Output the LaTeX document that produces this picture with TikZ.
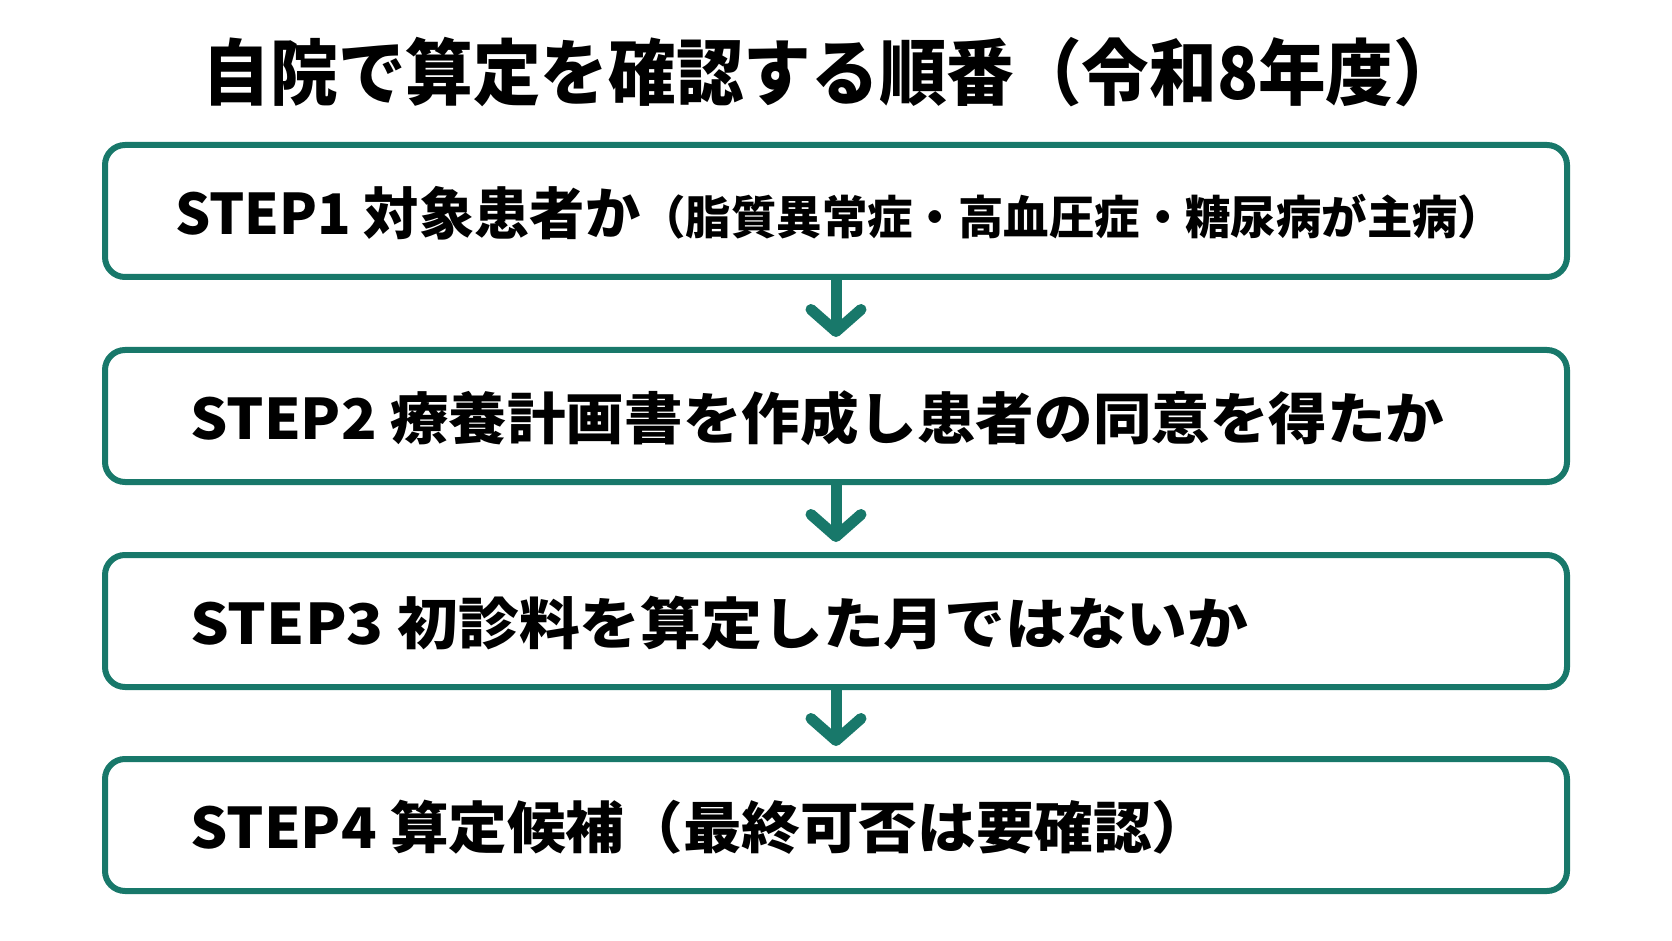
\documentclass[tikz,border=0pt]{standalone}
\usepackage{fontspec}
\usepackage{graphicx}
\setmainfont{Noto Sans CJK JP}
\usetikzlibrary{arrows.meta}
\definecolor{stepteal}{HTML}{18786A}
% stretch a text to a given width, keep its height
\newcommand{\stretchto}[2]{\resizebox{#1}{\height}{#2}}
\tikzset{
  stepbox/.style={draw=stepteal,line width=3pt,rounded corners=10pt,fill=white,
    minimum width=731pt,minimum height=66pt},
  steptext/.style={anchor=west,inner sep=0pt,font=\bfseries\fontsize{28pt}{32pt}\selectfont},
  flowarrow/.style={draw=stepteal,line width=5.5pt,line cap=round,
    -{Straight Barb[length=11pt,width=25pt,round]},shorten >=5pt}
}
\begin{document}
\begin{tikzpicture}[x=0.5pt,y=-0.5pt]
\useasboundingbox (0,0) rectangle (1672,941);
\node[inner sep=0pt,font=\bfseries\fontsize{36pt}{40pt}\selectfont] (title) at (832,72)
  {\stretchto{629pt}{自院で算定を確認する順番（令和8年度）}};
% the four steps
\node[stepbox] (s1) at (836,211) {};
\node[stepbox] (s2) at (836,416) {};
\node[stepbox] (s3) at (836,621) {};
\node[stepbox] (s4) at (836,825) {};
\node[steptext] (t1) at (175,213)
  {\stretchto{664pt}{STEP1 対象患者か{\fontsize{23pt}{26pt}\selectfont（脂質異常症・高血圧症・糖尿病が主病）}}};
\node[steptext] (t2) at (190,418) {\stretchto{627pt}{STEP2 療養計画書を作成し患者の同意を得たか}};
\node[steptext] (t3) at (190,623) {\stretchto{529pt}{STEP3 初診料を算定した月ではないか}};
\node[steptext] (t4) at (190,827) {\stretchto{510pt}{STEP4 算定候補（最終可否は要確認）}};
% arrows between the steps
\draw[flowarrow] (s1.south) -- (s2.north);
\draw[flowarrow] (s2.south) -- (s3.north);
\draw[flowarrow] (s3.south) -- (s4.north);
\end{tikzpicture}
\end{document}
